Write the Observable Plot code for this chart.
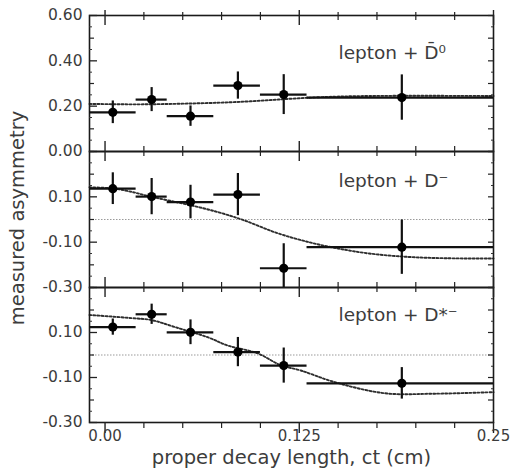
<!DOCTYPE html>
<html>
<head>
<meta charset="utf-8">
<script src="https://cdn.jsdelivr.net/npm/d3@7"></script>
<script src="https://cdn.jsdelivr.net/npm/@observablehq/plot@0.6"></script>
<style>
  body { margin: 0; background: #fff; }
  #chart { position: relative; width: 512px; height: 472px; overflow: hidden; }
</style>
</head>
<body>
<div id="chart"></div>
<script>
// ---- data ----
const ctLow  = [-0.01, 0.02, 0.04, 0.07, 0.10, 0.13];
const ctHigh = [0.02, 0.04, 0.07, 0.10, 0.13, 0.25];
const ctMean = [0.005, 0.030, 0.055, 0.0855, 0.115, 0.191];

const asymD0 = [0.173, 0.229, 0.156, 0.291, 0.251, 0.238];
const errD0  = [0.050, 0.053, 0.045, 0.060, 0.088, 0.100];
const asymDm = [0.136, 0.101, 0.077, 0.110, -0.215, -0.122];
const errDm  = [0.070, 0.080, 0.074, 0.093, 0.108, 0.120];
const asymDs = [0.124, 0.181, 0.101, 0.013, -0.047, -0.126];
const errDs  = [0.036, 0.045, 0.055, 0.065, 0.078, 0.070];

const fitD0x = [-0.01, 0.02, 0.05, 0.08, 0.10, 0.12, 0.14, 0.17, 0.25];
const fitD0y = [0.210, 0.208, 0.211, 0.217, 0.224, 0.233, 0.240, 0.245, 0.245];
const fitDmx = [-0.01, 0.005, 0.017, 0.03, 0.045, 0.06, 0.075, 0.09, 0.11, 0.13, 0.15, 0.17, 0.195, 0.22, 0.25];
const fitDmy = [0.142, 0.137, 0.122, 0.100, 0.078, 0.055, 0.028, -0.005, -0.058, -0.098, -0.128, -0.150, -0.165, -0.171, -0.172];
const fitDsx = [-0.01, 0.017, 0.03, 0.045, 0.066, 0.079, 0.098, 0.113, 0.126, 0.148, 0.18, 0.212, 0.25];
const fitDsy = [0.178, 0.164, 0.155, 0.124, 0.079, 0.042, 0.008, -0.045, -0.069, -0.121, -0.170, -0.172, -0.165];

const panelLabels = ["lepton + D\u0304\u2070", "lepton + D\u207B", "lepton + D*\u207B"];
const yTicksTop = [0, 0.2, 0.4, 0.6];
const yTicksLower = [-0.3, -0.1, 0.1];
const xTickValues = [0, 0.125, 0.25];
const xTickText = ["0.00", "0.125", "0.25"];
const xLabel = "proper decay length, ct (cm)";
const yLabel = "measured asymmetry";

// ---- build ----
const xDomain = [-0.01, 0.25];
const font = "DejaVu Sans";
const textColor = "#3c3c3c";
const minorX = d3.range(0, 0.2501, 0.025).map(v => +v.toFixed(3));
const majorX = [0, 0.125, 0.25];

function rows(asym, err) {
  return ctMean.map((x, i) => ({x, y: asym[i], e: err[i], lo: ctLow[i], hi: ctHigh[i]}));
}
function fitRows(xs, ys) { return xs.map((x, i) => ({x, y: ys[i]})); }

const panels = [
  {data: rows(asymD0, errD0), fit: fitRows(fitD0x, fitD0y), domain: [0, 0.6], labels: yTicksTop,
   top: 15, bottom: 151, label: panelLabels[0], labelDy: 43, zero: false, first: true, last: false},
  {data: rows(asymDm, errDm), fit: fitRows(fitDmx, fitDmy), domain: [-0.3, 0.3], labels: yTicksLower,
   top: 151, bottom: 287, label: panelLabels[1], labelDy: 35, zero: true, first: false, last: false},
  {data: rows(asymDs, errDs), fit: fitRows(fitDsx, fitDsy), domain: [-0.3, 0.3], labels: yTicksLower,
   top: 287, bottom: 422, label: panelLabels[2], labelDy: 33, zero: true, first: false, last: true}
];

const chart = document.getElementById("chart");

panels.forEach((p, k) => {
  const [y0, y1] = p.domain;
  const step = 0.05;
  const yAll = d3.range(Math.round((y1 - y0) / step) + 1).map(i => +(y0 + i * step).toFixed(3));
  const yMajor = p.labels;
  const yMid = yAll.filter(v => Math.abs(Math.round(v * 10) - v * 10) < 1e-6 && !yMajor.some(m => Math.abs(m - v) < 1e-6));
  const yMinor = yAll.filter(v => Math.abs(Math.round(v * 10) - v * 10) > 1e-6);
  const yTop = () => y1, yBot = () => y0;
  const xLeft = () => xDomain[0], xRight = () => xDomain[1];

  const marks = [];
  if (p.zero) marks.push(Plot.ruleY([0], {stroke: "#9a9a9a", strokeWidth: 1.2, strokeDasharray: "1.5,1.5"}));
  marks.push(Plot.line(p.fit, {x: "x", y: "y", curve: "catmull-rom", stroke: "#2e2e2e", strokeWidth: 1.9, strokeDasharray: "2,2"}));
  marks.push(Plot.frame({stroke: "#1a1a1a", strokeWidth: 1.6}));
  // x ticks crossing the top boundary
  const topUp = p.first ? 3 : 5, topUpMaj = p.first ? 5 : 10;
  marks.push(Plot.ruleX(minorX.filter(v => !majorX.includes(v)), {x: d => d, y1: yTop, y2: yTop, insetTop: -topUp, insetBottom: -5, stroke: "#222", strokeWidth: 1.2}));
  marks.push(Plot.ruleX(majorX, {x: d => d, y1: yTop, y2: yTop, insetTop: -topUpMaj, insetBottom: -10, stroke: "#222", strokeWidth: 1.4}));
  if (p.last) {
    marks.push(Plot.ruleX(minorX.filter(v => !majorX.includes(v)), {x: d => d, y1: yBot, y2: yBot, insetTop: 6, insetBottom: 0, stroke: "#222", strokeWidth: 1.2}));
    marks.push(Plot.ruleX(majorX, {x: d => d, y1: yBot, y2: yBot, insetTop: 11, insetBottom: 0, stroke: "#222", strokeWidth: 1.4}));
  }
  // y ticks (left, inward) and (right, inward)
  marks.push(Plot.ruleY(yMajor, {y: d => d, x1: xLeft, x2: xLeft, insetRight: -8, stroke: "#222", strokeWidth: 1.3}));
  marks.push(Plot.ruleY(yMid, {y: d => d, x1: xLeft, x2: xLeft, insetRight: -5, stroke: "#222", strokeWidth: 1.2}));
  marks.push(Plot.ruleY(yMinor, {y: d => d, x1: xLeft, x2: xLeft, insetRight: -3, stroke: "#333", strokeWidth: 1}));
  marks.push(Plot.ruleY(yMajor.concat(yMid), {y: d => d, x1: xRight, x2: xRight, insetLeft: -5, stroke: "#222", strokeWidth: 1.2}));
  marks.push(Plot.ruleY(yMinor, {y: d => d, x1: xRight, x2: xRight, insetLeft: -2, stroke: "#333", strokeWidth: 1}));
  // data: error bars and points
  marks.push(Plot.ruleY(p.data, {y: "y", x1: "lo", x2: "hi", stroke: "#111", strokeWidth: 2.2, clip: true}));
  marks.push(Plot.ruleX(p.data, {x: "x", y1: d => d.y - d.e, y2: d => d.y + d.e, stroke: "#111", strokeWidth: 2.2, clip: true}));
  marks.push(Plot.dot(p.data, {x: "x", y: "y", r: 4.6, fill: "#000", stroke: "none"}));
  // y tick labels
  marks.push(Plot.axisY(yMajor, {tickSize: 0, tickPadding: 7, tickFormat: d => d.toFixed(2), fontSize: 15.5, color: textColor, label: null}));
  // panel label
  marks.push(Plot.text([p.label], {text: d => d, frameAnchor: "top-left", dx: 249, dy: p.labelDy, textAnchor: "start", lineAnchor: "bottom", fontSize: 18.5, fill: textColor}));
  if (k === 1) {
    marks.push(Plot.text([yLabel], {text: d => d, frameAnchor: "left", dx: -71.5, dy: -1.5, rotate: -90, textAnchor: "middle", lineAnchor: "middle", fontSize: 19.5, fill: textColor}));
  }
  if (p.last) {
    marks.push(Plot.axisX(xTickValues, {tickSize: 0, tickPadding: 8, tickFormat: (d) => xTickText[xTickValues.indexOf(d)], fontSize: 15, color: textColor, label: null}));
    marks.push(Plot.text([xLabel], {text: d => d, frameAnchor: "bottom", dy: 41, textAnchor: "middle", lineAnchor: "bottom", fontSize: 19.5, fill: textColor}));
  }

  const svg = Plot.plot({
    width: 512,
    height: 472,
    marginLeft: 89,
    marginRight: 19,
    marginTop: p.top,
    marginBottom: 472 - p.bottom,
    x: {domain: xDomain, axis: p.last ? undefined : null},
    y: {domain: p.domain},
    style: {position: "absolute", left: "0px", top: "0px", background: "transparent", overflow: "visible", fontFamily: font},
    marks
  });
  chart.appendChild(svg);
});
</script>
</body>
</html>
